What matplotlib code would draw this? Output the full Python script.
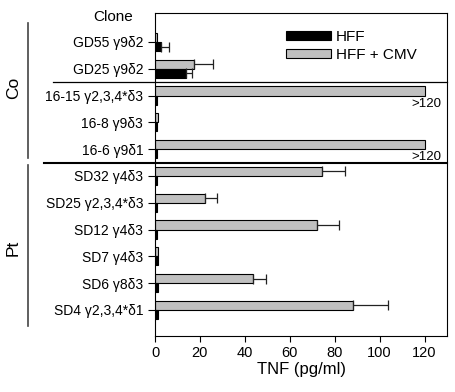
import numpy as np
import matplotlib.pyplot as plt

plt.rcParams['font.family'] = ['Liberation Sans', 'DejaVu Sans']

# clone labels, top to bottom
clones = ['GD55 γ9δ2', 'GD25 γ9δ2', '16-15 γ2,3,4*δ3', '16-8 γ9δ3', '16-6 γ9δ1',
          'SD32 γ4δ3', 'SD25 γ2,3,4*δ3', 'SD12 γ4δ3', 'SD7 γ4δ3', 'SD6 γ8δ3',
          'SD4 γ2,3,4*δ1']
# TNF (pg/ml)
hff_cmv = [1.0, 17.3, 120, 1.5, 120, 74.2, 22.4, 71.9, 1.5, 43.7, 88.1]
hff_cmv_err = [0, 8.3, 0, 0, 0, 10.5, 5.3, 9.9, 0, 5.9, 15.6]
hff = [2.7, 13.8, 1.0, 1.0, 1.0, 1.0, 1.0, 1.0, 1.5, 1.5, 1.5]
hff_err = [3.5, 2.5, 0, 0, 0, 0, 0, 0, 0, 0, 0]
capped = [2, 4]  # clones reported as >120

y = np.arange(len(clones))
h = 0.34

fig = plt.figure(figsize=(4.55, 3.92), dpi=100)
ax = fig.add_axes([0.3407, 0.1429, 0.6417, 0.8239])

ax.barh(y - h / 2, hff_cmv, height=h, color='#c0c0c0', edgecolor='black', linewidth=0.8,
        label='HFF + CMV')
ax.barh(y + h / 2, hff, height=h, color='black', edgecolor='black', linewidth=0.8,
        label='HFF')
for i in range(len(clones)):
    if hff_cmv_err[i] > 0:
        ax.errorbar(hff_cmv[i], y[i] - h / 2, xerr=[[0], [hff_cmv_err[i]]], color='#222222',
                    capsize=3.5, elinewidth=0.9, capthick=0.9)
    if hff_err[i] > 0:
        ax.errorbar(hff[i], y[i] + h / 2, xerr=[[0], [hff_err[i]]], color='#222222',
                    capsize=3.5, elinewidth=0.9, capthick=0.9)
for i in capped:
    ax.text(121, y[i] + 0.3, '>120', ha='center', va='center', fontsize=9.5)

ax.set_xlim(0, 130)
ax.set_ylim(10.97, -1.08)
ax.set_xticks([0, 20, 40, 60, 80, 100, 120])
ax.set_yticks(y)
ax.set_yticklabels(clones, fontsize=10)
ax.tick_params(axis='x', labelsize=10.5, length=4, direction='out')
ax.tick_params(axis='y', length=5, direction='out')
ax.set_xlabel('TNF (pg/ml)', fontsize=12, labelpad=1)

# separators between groups
tr = ax.get_yaxis_transform()
ax.plot([-0.35, 1], [1.5, 1.5], color='black', lw=0.9, transform=tr, clip_on=False)
ax.plot([-0.38, 1], [4.5, 4.5], color='black', lw=1.5, transform=tr, clip_on=False)

# group brackets
ax.plot([-0.435, -0.435], [-0.7, 4.33], color='#444444', lw=1.2, transform=tr, clip_on=False)
ax.plot([-0.435, -0.435], [4.6, 10.6], color='#444444', lw=1.2, transform=tr, clip_on=False)
ax.text(-0.485, 1.7, 'Co', rotation=90, ha='center', va='center', fontsize=12.5, transform=tr)
ax.text(-0.485, 7.7, 'Pt', rotation=90, ha='center', va='center', fontsize=12.5, transform=tr)
ax.text(-0.145, -0.93, 'Clone', ha='center', va='center', fontsize=11, transform=tr)

handles, labels = ax.get_legend_handles_labels()
ax.legend(handles[::-1], labels[::-1], loc='upper left', bbox_to_anchor=(0.40, 0.99),
          frameon=False, fontsize=11, handlelength=3.0, handleheight=0.55,
          labelspacing=0.25, handletextpad=0.3)

fig.savefig('out.png', dpi=100)
